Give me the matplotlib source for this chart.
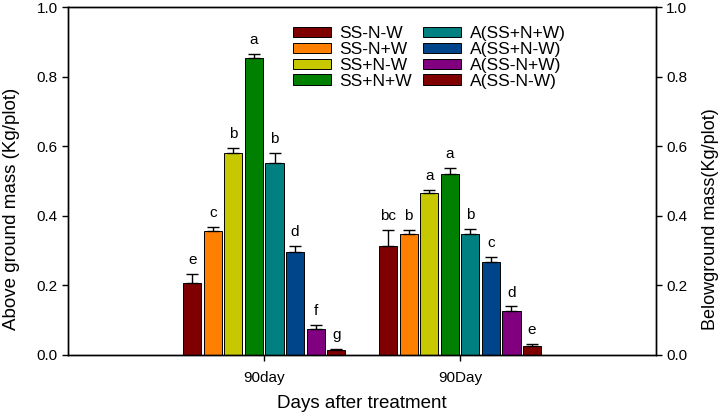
import matplotlib
matplotlib.use("Agg")
import matplotlib.pyplot as plt
import numpy as np
from matplotlib.patches import Patch

plt.rcParams.update(
    {
        "font.family": ["Liberation Sans", "DejaVu Sans"],
        "font.size": 11,
        "axes.linewidth": 1.0,
    }
)

# Data
groups = ["90day", "90Day"]
treatments = [
    "SS-N-W", "SS-N+W", "SS+N-W", "SS+N+W",
    "A(SS+N+W)", "A(SS+N-W)", "A(SS-N+W)", "A(SS-N-W)",
]
colors = [
    "#7F0000", "#FF8000", "#C8C800", "#008000",
    "#008080", "#00448A", "#800080", "#7F0000",
]
day1_mean = [0.207, 0.355, 0.580, 0.853, 0.551, 0.295, 0.074, 0.013]
day1_err = [0.026, 0.012, 0.014, 0.013, 0.029, 0.018, 0.013, 0.003]
day1_letters = ["e", "c", "b", "a", "b", "d", "f", "g"]
day2_mean = [0.313, 0.346, 0.466, 0.519, 0.348, 0.268, 0.127, 0.026]
day2_err = [0.046, 0.012, 0.009, 0.017, 0.013, 0.014, 0.012, 0.006]
day2_letters = ["bc", "b", "a", "a", "b", "c", "d", "e"]
y_ticks = [0.0, 0.2, 0.4, 0.6, 0.8, 1.0]

fig = plt.figure(figsize=(7.2, 4.15), dpi=100)
ax = fig.add_axes([0.095, 0.145, 0.816, 0.838])

pitch = 0.105
width = 0.0925
offsets = (np.arange(len(treatments)) - 3.5) * pitch
centers = np.array([1, 2])

for gi, (means, errs, letters) in enumerate(
    [(day1_mean, day1_err, day1_letters), (day2_mean, day2_err, day2_letters)]
):
    xs = centers[gi] + offsets
    ax.bar(xs, means, width=width, color=colors, edgecolor="black", linewidth=0.7, zorder=2)
    ax.errorbar(
        xs, means, yerr=[np.zeros(len(errs)), errs], fmt="none",
        ecolor="black", elinewidth=1.0, capsize=4, capthick=1.0, zorder=3,
    )
    for x, m, e, lab in zip(xs, means, errs, letters):
        ax.annotate(lab, (x, m + e), xytext=(0, 5), textcoords="offset points",
                    ha="center", va="bottom", fontsize=11)

ax.set_xlim(0, 3)
ax.set_ylim(0, 1.0)
ax.set_xticks(centers)
ax.set_xticklabels(groups)
ax.set_yticks(y_ticks)
ax.set_yticklabels([f"{v:.1f}" for v in y_ticks])
ax.tick_params(direction="out", length=4, width=1.0)
ax.tick_params(axis="x", pad=8)
ax.set_ylabel("Above ground mass (Kg/plot)", fontsize=13.5)
ax.yaxis.set_label_coords(-0.083, 0.42)
ax.set_xlabel("Days after treatment", fontsize=13.5, labelpad=7)

ax2 = ax.twinx()
ax2.set_ylim(0, 1.0)
ax2.set_yticks(y_ticks)
ax2.set_yticklabels([f"{v:.1f}" for v in y_ticks])
ax2.tick_params(direction="out", length=4, width=1.0)
ax2.set_ylabel("Belowground mass(Kg/plot)", fontsize=13, rotation=90)
ax2.yaxis.set_label_coords(1.078, 0.39)

handles = [Patch(facecolor=c, edgecolor="black", linewidth=0.7, label=t)
           for c, t in zip(colors, treatments)]
ax.legend(
    handles=handles, ncol=2, loc="upper left", bbox_to_anchor=(0.367, 0.97),
    frameon=False, fontsize=12.5, handlelength=2.2, handleheight=0.55,
    labelspacing=0.05, columnspacing=0.6, handletextpad=0.5, borderpad=0,
)

plt.savefig("out.png", dpi=100)
